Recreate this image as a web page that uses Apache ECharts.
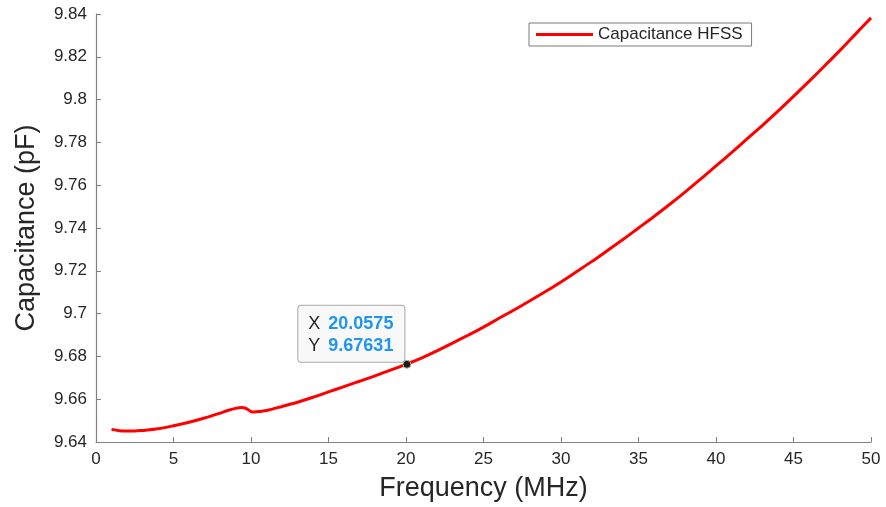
<!DOCTYPE html>
<html>
<head>
<meta charset="utf-8">
<script src="https://cdn.jsdelivr.net/npm/echarts@6/dist/echarts.min.js"></script>
<style>html,body{margin:0;padding:0;background:#fff;}#c{width:886px;height:507px;}</style>
</head>
<body>
<div id="c"></div>
<script>
var freq = [1,1.5,2,2.5,3,4,5,6,7,8,8.5,9,9.4,9.7,10,10.2,10.6,11,12,13,14,15,16,17,18,19,20,21,22,23,24,25,26,27,28,29,30,31,32,33,34,35,36,37,38,39,40,41,42,43,44,45,46,47,48,49,50];
var capHFSS = [9.6459,9.6453,9.6451,9.6451,9.6454,9.6462,9.6476,9.6492,9.6512,9.6535,9.6547,9.6557,9.6561,9.6556,9.6542,9.6540,9.6543,9.6547,9.6566,9.6586,9.6609,9.6634,9.6659,9.6684,9.6709,9.6736,9.6763,9.6792,9.6826,9.6862,9.6899,9.6937,9.6978,9.7018,9.7060,9.7103,9.7148,9.7196,9.7244,9.7295,9.7346,9.7400,9.7454,9.7510,9.7568,9.7628,9.7690,9.7752,9.7816,9.7880,9.7946,9.8015,9.8085,9.8157,9.8230,9.8306,9.8382];
var tipX = 20.0575;
var tipY = 9.67631;
var seriesName = 'Capacitance HFSS';
var xName = 'Frequency (MHz)';
var yName = 'Capacitance (pF)';

var data = freq.map(function(f, i){ return [f, capHFSS[i]]; });
var font = '"Liberation Sans", Arial, Helvetica, sans-serif';
var chart = echarts.init(document.getElementById('c'), null, {renderer: 'canvas'});
chart.setOption({
  animation: false,
  backgroundColor: '#ffffff',
  textStyle: {fontFamily: font},
  grid: {left: 96, right: 15, top: 14, bottom: 65, containLabel: false},
  legend: {
    left: 529, top: 23,
    data: [{name: seriesName, icon: 'rect'}],
    itemWidth: 57, itemHeight: 3, itemGap: 6,
    padding: [3, 9, 3, 7],
    borderColor: '#7a7a7a', borderWidth: 1, backgroundColor: '#fff',
    textStyle: {fontSize: 17, color: '#262626', fontFamily: font}
  },
  xAxis: {
    type: 'value', min: 0, max: 50, interval: 5,
    name: xName, nameLocation: 'middle', nameGap: 33,
    nameTextStyle: {fontSize: 27, color: '#262626', fontFamily: font},
    axisLine: {show: true, lineStyle: {color: '#808080', width: 1.2}},
    axisTick: {show: true, inside: true, length: 5, lineStyle: {color: '#808080'}},
    axisLabel: {fontSize: 17, color: '#262626', margin: 9, fontFamily: font},
    splitLine: {show: false}
  },
  yAxis: {
    type: 'value', min: 9.64, max: 9.84, interval: 0.02,
    name: yName, nameLocation: 'middle', nameGap: 56, nameRotate: 90,
    nameTextStyle: {fontSize: 27, color: '#262626', fontFamily: font},
    axisLine: {show: true, lineStyle: {color: '#808080', width: 1.2}},
    axisTick: {show: true, inside: true, length: 5, lineStyle: {color: '#808080'}},
    axisLabel: {fontSize: 17, color: '#262626', margin: 9, fontFamily: font,
      formatter: function(v){ return String(parseFloat(v.toFixed(2))); }},
    splitLine: {show: false}
  },
  series: [{
    name: seriesName, type: 'line', data: data, smooth: 0.3,
    symbol: 'none', showSymbol: false,
    lineStyle: {color: '#ff0000', width: 3},
    itemStyle: {color: '#ff0000'},
    z: 2,
    markPoint: {
      silent: true,
      symbol: 'circle', symbolSize: 8,
      itemStyle: {color: '#1b1b1b', borderColor: '#b9b98a', borderWidth: 1},
      label: {
        show: true,
        position: [2, 2],
        align: 'right', verticalAlign: 'bottom',
        backgroundColor: '#f8f8f8', borderColor: '#a8a8a8', borderWidth: 1, borderRadius: 3,
        padding: [7, 11, 5, 10],
        formatter: function(){ return '{k|X }{v|' + tipX + '}\n{k|Y }{v|' + tipY + '}'; },
        rich: {
          k: {fontSize: 18, color: '#262626', lineHeight: 22, fontFamily: font, padding: [0, 3, 0, 0]},
          v: {fontSize: 18, color: '#1e96f0', fontWeight: 'bold', lineHeight: 22, fontFamily: font}
        }
      },
      data: [{coord: [tipX, tipY]}]
    }
  }]
});
</script>
</body>
</html>
